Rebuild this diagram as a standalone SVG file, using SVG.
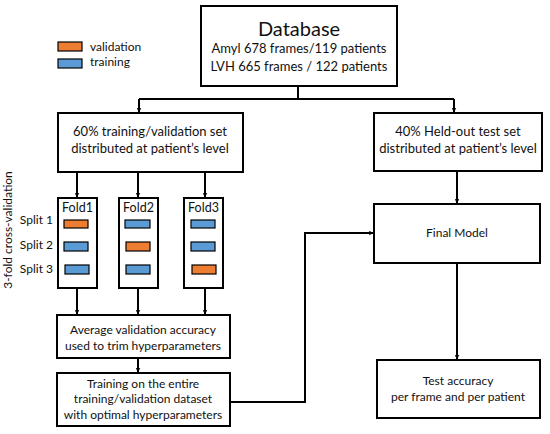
<svg xmlns="http://www.w3.org/2000/svg" width="550" height="434" viewBox="0 0 550 434">
<defs>
<style>
.box{fill:#fff;stroke:#000;stroke-width:2}
.t{font-family:Lato,"Noto Sans",sans-serif;fill:#111;text-anchor:middle}
.s{font-size:12px}
.m{font-size:13px}
.ln{fill:none;stroke:#000;stroke-width:2}
.or{fill:#ED7D31;stroke:#000;stroke-width:1.2}
.bl{fill:#5B9BD5;stroke:#000;stroke-width:1.2}
</style>
<marker id="ah" viewBox="0 0 10 10" refX="9" refY="5" markerWidth="5" markerHeight="5" orient="auto" markerUnits="userSpaceOnUse">
<path d="M0,0 L10,5 L0,10 L3,5 Z" fill="#000"/>
</marker>
</defs>
<rect width="550" height="434" fill="#fff"/>
<g id="legend">
<rect class="or" x="58" y="42" width="24" height="9"/>
<rect class="bl" x="58" y="59" width="24" height="9"/>
<text class="t s" x="90" y="51" style="text-anchor:start">validation</text>
<text class="t s" x="90" y="66" style="text-anchor:start">training</text>
</g>
<g id="connectors">
<polyline class="ln" points="298,86 298,99"/>
<polyline class="ln" points="139,99 454,99"/>
<line class="ln" x1="139" y1="99" x2="139" y2="112" marker-end="url(#ah)"/>
<line class="ln" x1="454" y1="99" x2="454" y2="112" marker-end="url(#ah)"/>
<line class="ln" x1="77" y1="172" x2="77" y2="197" marker-end="url(#ah)"/>
<line class="ln" x1="138" y1="172" x2="138" y2="197" marker-end="url(#ah)"/>
<line class="ln" x1="205" y1="172" x2="205" y2="197" marker-end="url(#ah)"/>
<line class="ln" x1="77" y1="288" x2="77" y2="314" marker-end="url(#ah)"/>
<line class="ln" x1="138" y1="288" x2="138" y2="314" marker-end="url(#ah)"/>
<line class="ln" x1="205" y1="288" x2="205" y2="314" marker-end="url(#ah)"/>
<line class="ln" x1="138" y1="358" x2="138" y2="372" marker-end="url(#ah)"/>
<polyline class="ln" points="230,402 305,402 305,233 373,233" marker-end="url(#ah)"/>
<line class="ln" x1="457" y1="171" x2="457" y2="203" marker-end="url(#ah)"/>
<line class="ln" x1="457" y1="263" x2="457" y2="359" marker-end="url(#ah)"/>
</g>
<g id="database">
<rect class="box" x="201" y="6" width="196" height="80"/>
<text class="t" x="299" y="36" font-size="20">Database</text>
<text class="t m" x="299" y="53">Amyl 678 frames/119 patients</text>
<text class="t m" x="299" y="71">LVH 665 frames / 122 patients</text>
</g>
<g id="trainval">
<rect class="box" x="58" y="113" width="185" height="59"/>
<text class="t m" x="150" y="136">60% training/validation set</text>
<text class="t m" x="150" y="153">distributed at patient’s level</text>
</g>
<g id="heldout">
<rect class="box" x="374" y="113" width="168" height="58"/>
<text class="t m" x="458" y="136">40% Held-out test set</text>
<text class="t m" x="458" y="153">distributed at patient’s level</text>
</g>
<g id="cv-label">
<text class="t s" transform="translate(12,230) rotate(-90)">3-fold cross-validation</text>
<text class="t s" x="53" y="224" style="text-anchor:end">Split 1</text>
<text class="t s" x="53" y="249" style="text-anchor:end">Split 2</text>
<text class="t s" x="53" y="273" style="text-anchor:end">Split 3</text>
</g>
<g id="fold1">
<rect class="box" x="58" y="198" width="39" height="90"/>
<text class="t" x="77.5" y="212" font-size="12.5">Fold1</text>
<rect class="or" x="64" y="220" width="24" height="8"/>
<rect class="bl" x="64" y="242" width="24" height="9"/>
<rect class="bl" x="65" y="265" width="24" height="9"/>
</g>
<g id="fold2">
<rect class="box" x="119" y="198" width="39" height="90"/>
<text class="t" x="138.5" y="212" font-size="12.5">Fold2</text>
<rect class="bl" x="125" y="220" width="25" height="8"/>
<rect class="or" x="126" y="242" width="24" height="9"/>
<rect class="bl" x="126" y="265" width="24" height="9"/>
</g>
<g id="fold3">
<rect class="box" x="184" y="198" width="39" height="90"/>
<text class="t" x="203.5" y="212" font-size="12.5">Fold3</text>
<rect class="bl" x="191" y="220" width="24" height="8"/>
<rect class="bl" x="191" y="242" width="24" height="9"/>
<rect class="or" x="192" y="265" width="24" height="9"/>
</g>
<g id="average">
<rect class="box" x="57" y="315" width="173" height="43"/>
<text class="t s" x="143" y="334">Average validation accuracy</text>
<text class="t s" x="143" y="350">used to trim hyperparameters</text>
</g>
<g id="training">
<rect class="box" x="57" y="373" width="173" height="53"/>
<text class="t s" x="143" y="388">Training on the entire</text>
<text class="t s" x="143" y="403">training/validation dataset</text>
<text class="t s" x="143" y="419">with optimal hyperparameters</text>
</g>
<g id="final">
<rect class="box" x="374" y="204" width="166" height="59"/>
<text class="t s" x="457" y="237">Final Model</text>
</g>
<g id="test">
<rect class="box" x="377" y="360" width="163" height="58"/>
<text class="t s" x="458" y="385">Test accuracy</text>
<text class="t s" x="458" y="401">per frame and per patient</text>
</g>
</svg>
